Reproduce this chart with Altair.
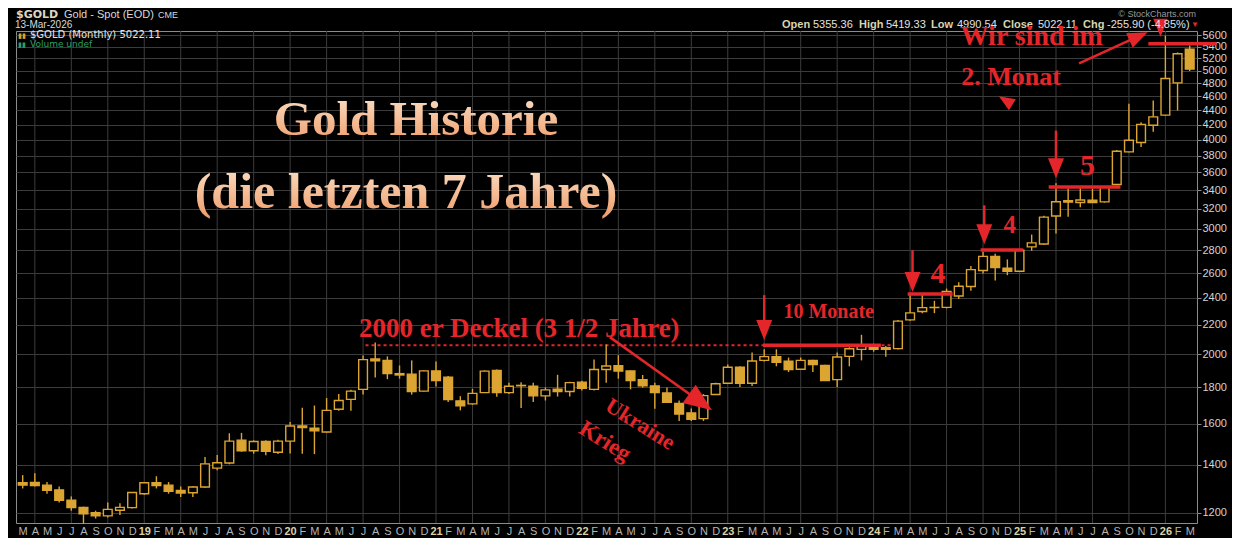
import math

import altair as alt
import pandas as pd

# monthly candles, Mar 2018 .. Mar 2026
months = pd.date_range("2018-03-01", "2026-03-01", freq="MS")

opens = [1322, 1323, 1312, 1292, 1250, 1221, 1200, 1188, 1210, 1220,
         1276, 1322, 1312, 1290, 1280, 1304, 1386, 1409, 1517, 1466,
         1510, 1459, 1512, 1588, 1576, 1557, 1676, 1730, 1787, 1971,
         1962, 1880, 1877, 1777, 1897, 1859, 1722, 1705, 1768, 1899,
         1768, 1810, 1805, 1750, 1788, 1775, 1829, 1787, 1905, 1929,
         1896, 1843, 1807, 1766, 1707, 1656, 1626, 1758, 1823, 1919,
         1823, 1962, 1986, 1957, 1907, 1962, 1930, 1844, 1988, 2033,
         2050, 2044, 2038, 2236, 2297, 2327, 2328, 2415, 2491, 2622,
         2745, 2641, 2616, 2830, 2856, 3126, 3285, 3266, 3291, 3272,
         3462, 3845, 3964, 4191, 4329, 4804, 5355.36]
highs = [1355, 1363, 1325, 1306, 1265, 1224, 1208, 1240, 1237, 1283,
         1324, 1350, 1325, 1306, 1307, 1436, 1446, 1551, 1553, 1516,
         1516, 1519, 1608, 1684, 1696, 1738, 1760, 1785, 1994, 2078,
         1988, 1930, 1962, 1900, 1955, 1865, 1748, 1790, 1900, 1905,
         1825, 1828, 1825, 1798, 1873, 1831, 1838, 1967, 2065, 1995,
         1899, 1872, 1826, 1798, 1724, 1680, 1760, 1826, 1937, 1925,
         2013, 2034, 2034, 1980, 1980, 1966, 1935, 2013, 2047, 2131,
         2070, 2055, 2235, 2425, 2425, 2378, 2474, 2525, 2661, 2785,
         2767, 2718, 2806, 2945, 3128, 3475, 3420, 3440, 3415, 3440,
         3870, 4490, 4230, 4538, 5595, 5300, 5419.33]
lows = [1298, 1306, 1276, 1240, 1208, 1159, 1178, 1182, 1191, 1217,
        1272, 1298, 1276, 1263, 1263, 1301, 1377, 1403, 1461, 1452,
        1445, 1450, 1453, 1452, 1450, 1555, 1668, 1668, 1757, 1857,
        1847, 1850, 1757, 1775, 1803, 1716, 1670, 1700, 1766, 1745,
        1760, 1683, 1716, 1724, 1746, 1746, 1780, 1780, 1826, 1850,
        1787, 1797, 1679, 1710, 1613, 1614, 1614, 1755, 1821, 1800,
        1807, 1955, 1925, 1890, 1903, 1890, 1836, 1800, 1925, 1962,
        2018, 1986, 2033, 2230, 2285, 2285, 2320, 2392, 2457, 2597,
        2540, 2583, 2612, 2795, 2850, 2956, 3120, 3216, 3262, 3265,
        3450, 3840, 3908, 4105, 4320, 4394, 4990.54]
closes = [1312, 1310, 1290, 1249, 1220, 1196, 1188, 1213, 1221, 1281,
          1322, 1310, 1286, 1279, 1304, 1405, 1410, 1512, 1466, 1510,
          1463, 1512, 1588, 1580, 1563, 1670, 1724, 1777, 1967, 1960,
          1880, 1872, 1775, 1897, 1839, 1729, 1694, 1764, 1895, 1768,
          1805, 1808, 1750, 1784, 1775, 1826, 1793, 1905, 1927, 1896,
          1839, 1807, 1768, 1714, 1650, 1623, 1751, 1820, 1919, 1823,
          1958, 1986, 1950, 1905, 1962, 1936, 1839, 1984, 2037, 2064,
          2033, 2034, 2227, 2287, 2326, 2328, 2450, 2493, 2630, 2745,
          2648, 2616, 2800, 2867, 3115, 3274, 3270, 3292, 3265, 3435,
          3854, 3993, 4200, 4305, 4872, 5278, 5022.11]

letters = "JFMAMJJASOND"
tick_labels = [f"{d.year % 100:02d}" if d.month == 1 else letters[d.month - 1] for d in months]
price_ticks = list(range(1200, 5601, 200))

# red marker levels drawn on the chart: (from month, to month, price)
deckel = {"i0": [28.2], "i1": [72.6], "p": [2061]}
level_from = [60.9, 72.8, 78.8, 84.4, 92.6]
level_to = [70.6, 76.5, 82.3, 90.3, 98.2]
level_price = [2061, 2431, 2801, 3432, 5449]

GOLD = "#dca532"
RED = "#e4262a"
GRID = "#3c3c3c"

W, H = 1181, 492
XMIN, XMAX = -0.55, 96.6
YMIN, YMAX = 1161, 5680
LOGR = math.log(YMAX / YMIN)


def to_px(i, p):
    return (i - XMIN) / (XMAX - XMIN) * W, H * math.log(YMAX / p) / LOGR


def from_px(x, y):
    return XMIN + x / W * (XMAX - XMIN), YMAX * math.exp(-y / H * LOGR)


xs = alt.Scale(domain=[XMIN, XMAX], nice=False, zero=False)
ys = alt.Scale(type="log", domain=[YMIN, YMAX], nice=False)

is_jan = "datum.value % 12 == 10"
x_axis = alt.Axis(
    values=list(range(len(months))),
    labelExpr="[" + ",".join(f"'{t}'" for t in tick_labels) + "][datum.value]",
    labelColor={"condition": {"test": is_jan, "value": "#d9d2a6"}, "value": "#b4b4b4"},
    labelFontWeight={"condition": {"test": is_jan, "value": "bold"}, "value": "normal"},
    labelFontSize=11,
    labelFont="Liberation Sans",
    labelBaseline="top",
    labelPadding=2,
    labelOverlap=False,
    labelFlush=False,
    ticks=False,
    domain=False,
    grid=False,
    title=None,
)
y_axis = alt.Axis(
    orient="right",
    values=price_ticks,
    format="d",
    labelColor="#d4d4d4",
    labelFont="Liberation Sans",
    labelFontSize=11,
    labelPadding=1,
    labelOverlap=False,
    tickSize=4,
    tickColor="#8c8c8c",
    domain=False,
    grid=True,
    gridColor=GRID,
    title=None,
)


def X(field):
    return alt.X(field, scale=xs, axis=x_axis)


def Y(field):
    return alt.Y(field, scale=ys, axis=y_axis)


candles = pd.DataFrame({"i": range(len(months)), "o": opens, "h": highs, "l": lows, "c": closes})

vgrid = alt.Chart(pd.DataFrame({"g": [k for k, d in enumerate(months) if d.month % 3 == 1]})).mark_rule(
    color=GRID, strokeWidth=1
).encode(x=X("g:Q"))

wicks = alt.Chart(candles).mark_rule(color=GOLD, strokeWidth=1.4).encode(
    x=X("i:Q"), y=Y("l:Q"), y2="h:Q"
)

bodies = (
    alt.Chart(candles)
    .transform_calculate(x0="datum.i - 0.36", x1="datum.i + 0.36")
    .mark_rect(stroke=GOLD, strokeWidth=1.4)
    .encode(
        x=X("x0:Q"),
        x2="x1:Q",
        y=Y("o:Q"),
        y2="c:Q",
        fill=alt.condition("datum.c < datum.o", alt.value(GOLD), alt.value("#000000")),
    )
)

deckel_line = alt.Chart(pd.DataFrame(deckel)).mark_rule(color=RED, strokeWidth=2, strokeDash=[3, 3]).encode(
    x=X("i0:Q"), x2="i1:Q", y=Y("p:Q")
)
levels = alt.Chart(pd.DataFrame({"i0": level_from, "i1": level_to, "p": level_price})).mark_rule(
    color=RED, strokeWidth=3.5
).encode(x=X("i0:Q"), x2="i1:Q", y=Y("p:Q"))

# arrows: start (month, price) -> tip (month, price), head length in px
arrow_defs = [
    (48.3, 2115, 56.7, 1671, 28, True),
    (61.0, 2422, 61.0, 2095, 20, True),
    (73.2, 2800, 73.2, 2446, 20, True),
    (79.1, 3236, 79.1, 2855, 20, True),
    (85.0, 4119, 85.0, 3533, 20, True),
    (93.6, 5839, 93.6, 5577, 18, True),
    (86.9, 5118, 92.54, 5659, 20, True),
    (81.6, 4457, 80.3, 4602, 16, False),
]
shafts, heads = [], []
for i0, p0, i1, p1, L, with_shaft in arrow_defs:
    x0, y0 = to_px(i0, p0)
    x1, y1 = to_px(i1, p1)
    dx, dy = x1 - x0, y1 - y0
    n = math.hypot(dx, dy)
    if with_shaft:
        ei, ep = from_px(x1 - dx / n * 0.7 * L, y1 - dy / n * 0.7 * L)
        shafts.append({"i0": i0, "p0": p0, "i1": ei, "p1": ep})
    heads.append({"i": i1, "p": p1, "ang": (math.degrees(math.atan2(dy, dx)) - 90) % 360, "sz": 4 * L * L})

shaft_layer = alt.Chart(pd.DataFrame(shafts)).mark_rule(color=RED, strokeWidth=2.5).encode(
    x=X("i0:Q"), y=Y("p0:Q"), x2="i1:Q", y2="p1:Q"
)
head_layer = alt.Chart(pd.DataFrame(heads)).mark_point(
    shape="M0,0L-0.4,-1L0.4,-1Z", filled=True, color=RED, opacity=1, strokeWidth=0
).encode(
    x=X("i:Q"),
    y=Y("p:Q"),
    angle=alt.Angle("ang:Q", scale=None),
    size=alt.Size("sz:Q", scale=None),
)


def note(text, i, p, size, angle=0, baseline="alphabetic"):
    props = dict(font="Liberation Serif", fontWeight="bold", fontSize=size, color=RED,
                 align="center", baseline=baseline)
    if angle:
        props["angle"] = angle
    return alt.Chart(pd.DataFrame({"t": [text], "i": [i], "p": [p]})).mark_text(**props).encode(
        x=X("i:Q"), y=Y("p:Q"), text="t:N"
    )


def label(text, x, y, **style):
    return alt.Chart(pd.DataFrame({"t": [text]})).mark_text(**style).encode(
        x=alt.value(x), y=alt.value(y), text="t:N"
    )


notes = [
    note("2000 er Deckel (3 1/2 Jahre)", 40.85, 2115, 27),
    note("10 Monate", 66.3, 2248, 20),
    note("4", 75.3, 2518, 30),
    note("4", 81.2, 2958, 25),
    note("5", 87.6, 3567, 30),
    note("Wir sind im", 83.0, 5427, 28),
    note("2. Monat", 81.3, 4770, 26),
    note("Ukraine", 50.8, 1598, 22, angle=32, baseline="middle"),
    note("Krieg", 47.9, 1512, 23, angle=32, baseline="middle"),
]

peach = alt.LinearGradient(
    gradient="linear",
    stops=[alt.GradientStop(color="#fbe4cc", offset=0), alt.GradientStop(color="#ef9a66", offset=1)],
    x1=0, x2=0, y1=0, y2=1,
)
title_style = dict(font="Liberation Serif", fontWeight="bold", fill=peach, align="center", baseline="alphabetic")
titles = [
    label("Gold Historie", 400, 104, fontSize=49, **title_style),
    label("(die letzten 7 Jahre)", 390, 177, fontSize=50, **title_style),
]

sans = dict(font="Liberation Sans", align="left", baseline="alphabetic")
header = [
    label("$GOLD", 0, -13, font="DejaVu Sans", fontWeight="bold", fontSize=11, color="#dcd8c0",
          align="left", baseline="alphabetic"),
    label("Gold - Spot (EOD)", 48, -13, fontSize=11, color="#d8d8d8", **sans),
    label("CME", 142, -13, fontSize=9, color="#d8d8d8", **sans),
    label("13-Mar-2026", -1, -3, fontSize=10, color="#d8d8d8", **sans),
    label("▮▮", 2, 7, fontSize=7, color="#e0a030", **sans),
    label("$GOLD (Monthly) 5022.11", 14, 7, font="DejaVu Sans", fontSize=10, color="#e6e6e6",
          align="left", baseline="alphabetic"),
    label("▮▮", 2, 16, fontSize=7, color="#2f9e64", **sans),
    label("Volume undef", 14, 16, font="DejaVu Sans", fontSize=9, color="#2f9e64",
          align="left", baseline="alphabetic"),
    label("© StockCharts.com", 1180, -14, fontSize=9, color="#9a9a9a", font="Liberation Sans",
          align="right", baseline="alphabetic"),
]
quote = [("Open", 766, True), ("5355.36", 797, False), ("High", 843, True), ("5419.33", 870, False),
         ("Low", 915, True), ("4990.54", 941, False), ("Close", 987, True), ("5022.11", 1022, False),
         ("Chg", 1067, True), ("-255.90 (-4.85%)", 1091, False)]
for txt, x, bold in quote:
    if bold:
        header.append(label(txt, x, -3, fontSize=11, fontWeight="bold", color="#d8d4b0", **sans))
    else:
        header.append(label(txt, x, -3, fontSize=11, color="#e2e2e2", **sans))
header.append(label("▼", 1175, -4, fontSize=8, color=RED, **sans))

chart = (
    alt.layer(vgrid, deckel_line, wicks, bodies, levels, shaft_layer, head_layer, *header, *notes, *titles)
    .properties(
        width=W,
        height=H,
        autosize=alt.AutoSizeParams(type="none"),
        padding={"left": 8, "top": 23, "right": 35, "bottom": 15},
        background="#000000",
    )
    .configure_view(stroke="#8c8c8c", strokeWidth=1)
)

chart.save("out.html", embed_options={"renderer": "svg", "actions": False})
